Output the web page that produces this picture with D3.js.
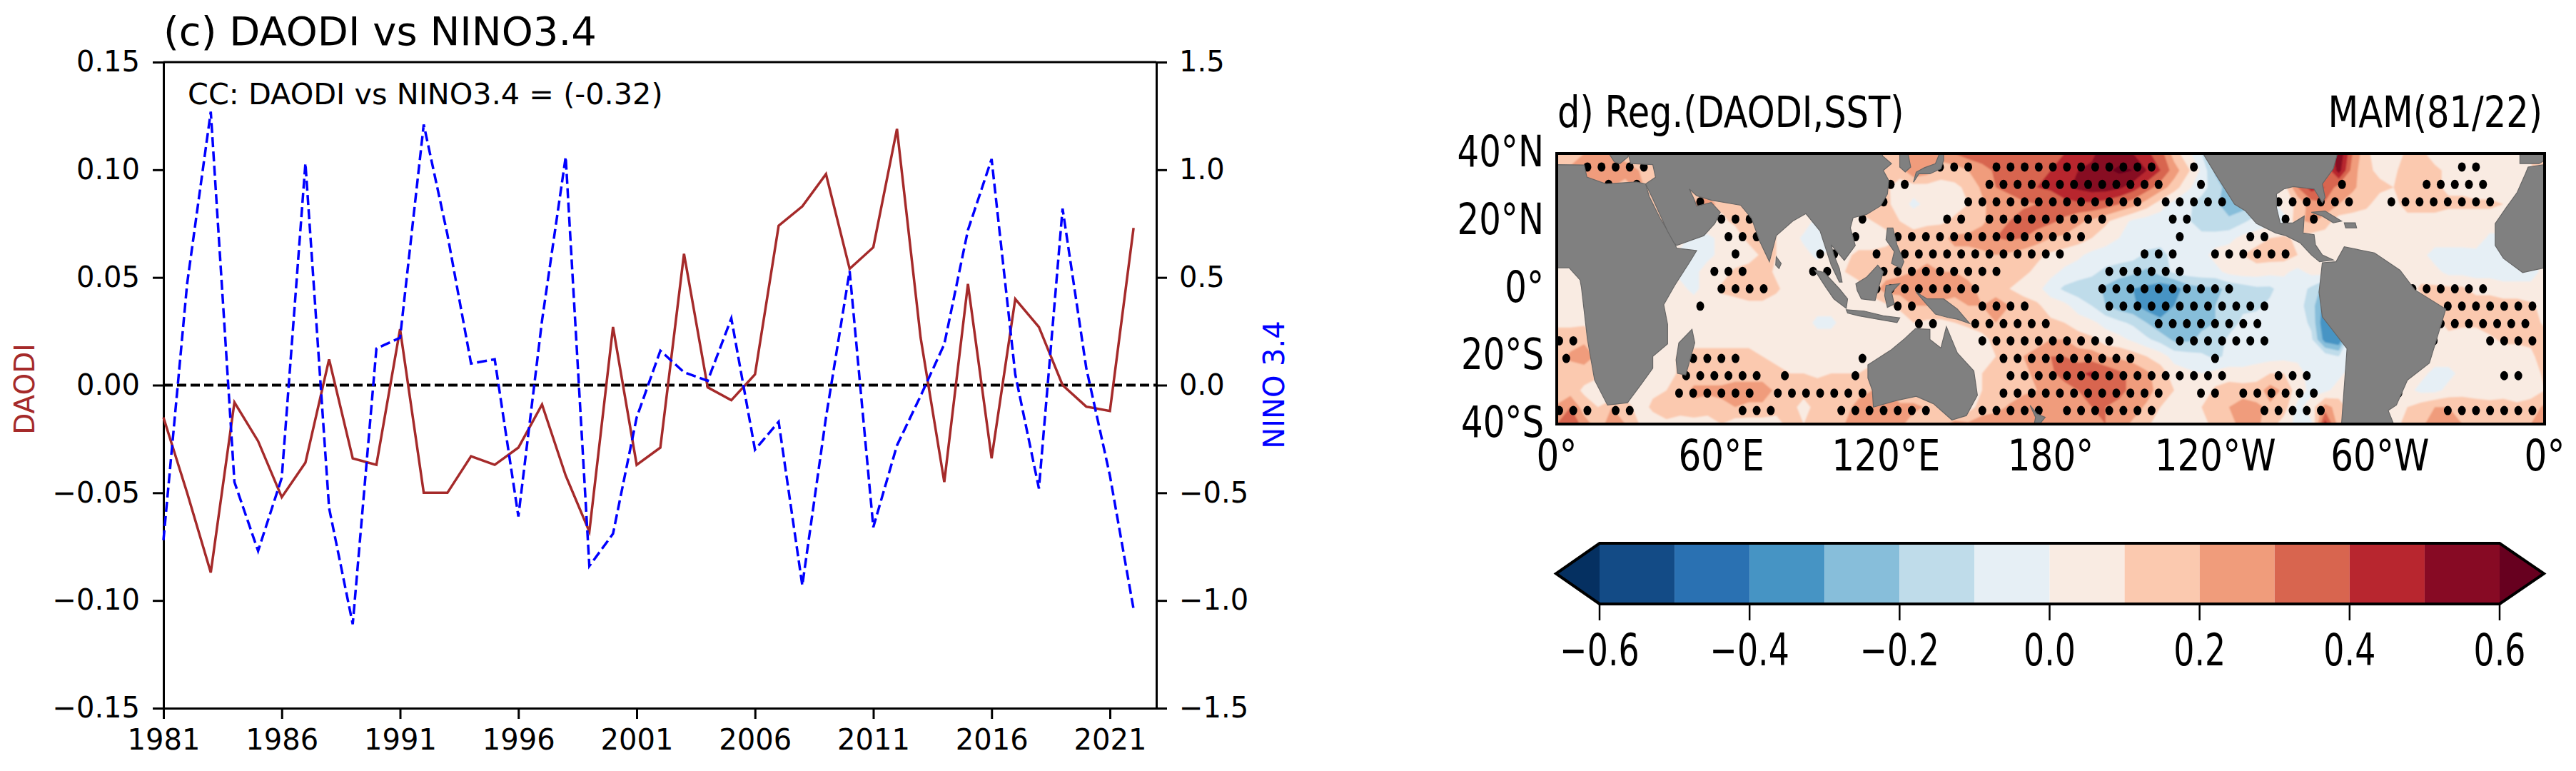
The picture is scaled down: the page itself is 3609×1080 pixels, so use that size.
<!DOCTYPE html>
<html>
<head>
<meta charset="utf-8">
<script src="https://cdn.jsdelivr.net/npm/d3@7"></script>
<style>
  body { margin: 0; background: #fff; }
  svg { display: block; }
  text { font-family: "DejaVu Sans", sans-serif; fill: #000; }
</style>
</head>
<body>
<div id="chart"></div>
<script>
// 1: DATA
// panel (c) time series
const years = d3.range(1981, 2023);
const daodi = [-0.015, -0.05, -0.087, -0.008, -0.026, -0.052, -0.036, 0.012, -0.034, -0.037,
  0.026, -0.05, -0.05, -0.033, -0.037, -0.029, -0.009, -0.042, -0.068, 0.027,
  -0.037, -0.029, 0.061, -0.001, -0.007, 0.005, 0.074, 0.083, 0.098, 0.054,
  0.064, 0.119, 0.022, -0.045, 0.047, -0.034, 0.04, 0.027, 0, -0.01, -0.012, 0.073];
const nino34 = [-0.72, 0.47, 1.27, -0.45, -0.77, -0.43, 1.03, -0.57, -1.11, 0.17,
  0.22, 1.21, 0.7, 0.1, 0.12, -0.61, 0.3, 1.06, -0.84, -0.69,
  -0.15, 0.16, 0.06, 0.02, 0.31, -0.3, -0.17, -0.93, -0.15, 0.53,
  -0.66, -0.28, -0.05, 0.19, 0.72, 1.05, 0.05, -0.48, 0.82, 0.08, -0.42, -1.04];
const yearTicks = [1981, 1986, 1991, 1996, 2001, 2006, 2011, 2016, 2021];
const daodiTicks = [-0.15, -0.1, -0.05, 0, 0.05, 0.1, 0.15];
const ninoTicks = [-1.5, -1, -0.5, 0, 0.5, 1, 1.5];

// panel (d) regression field, hundredths, one row per latitude, columns 0,5,...,355
const sstLats = d3.range(40, -41, -5);
const sstRows = [
  [15,15,20,20,20,15,15,10,10,10,10,10, 10,10,10,10,10,10,10,10,10,10,10,10, 12,18,25,22,25,30,35,38,38,35,32,32, 35,40,45,48,55,55,50,42,35,15,3,-10, -22,-22,-15,-10,-5,5,5,15,30,60,30,12, 5,5,12,12,6,5,5,5,5,5,8,12],
  [22,22,22,25,25,25,20,15,15,10,10,10, 10,10,10,10,10,10,10,10,10,10,10,10, 15,15,30,25,15,15,20,25,32,32,35,35, 40,45,50,52,58,62,60,50,40,25,12,-2, -22,-30,-25,-20,-15,-10,-5,10,30,55,25,12, 8,8,15,15,12,8,8,8,8,8,8,8],
  [15,20,20,20,20,15,25,10,10,10,10,10, 10,10,10,10,10,10,10,10,10,10,10,10, 12,5,5,6,6,8,12,22,30,32,38,40, 42,48,52,55,55,52,45,35,25,15,2,-6, -15,-25,-28,-15,-5,5,30,45,40,25,22,15, 12,10,15,15,12,8,8,5,5,5,8,8],
  [10,10,10,10,10,10,10,18,18,18,22,30, 12,12,12,12,12,12,12,12,12,12,12,12, 12,6,-3,3,5,6,10,18,25,27,28,30, 32,36,38,38,35,30,24,15,5,-4,-8,-14, -18,-25,-25,-18,-5,5,12,25,28,20,15,12, 6,6,15,15,15,12,12,12,12,10,10,10],
  [10,10,10,10,10,10,10,15,15,12,12,10, 8,12,15,15,10,8,5,-3,-3,3,8,10, 12,10,8,8,8,12,15,18,25,30,35,35, 32,28,22,18,12,5,-2,-5,-6,-6,-8,-18, -20,-18,-12,-6,-4,-4,18,22,15,5,5,5, 5,5,5,5,5,5,5,5,5,5,5,5],
  [5,5,5,5,5,5,5,5,5,5,-5,-3, 3,5,13,15,10,5,-2,-3,-3,5,5,5, 8,10,12,15,18,22,22,25,30,32,30,25, 20,18,15,10,5,0,-4,-5,-4,-8,-8,-5, -4,-3,3,5,10,12,8,5,5,5,5,5, 5,5,5,5,5,5,5,5,-2,-2,-2,-2],
  [5,5,5,5,5,5,5,5,5,-3,-3,-3, 3,3,5,12,10,5,3,-2,3,8,12,12, 12,15,18,18,18,18,18,18,20,18,15,12, 8,5,2,-3,-5,-5,-6,-12,-15,-5,-3,-3, 3,5,10,15,15,15,10,3,3,3,3,3, 5,3,3,3,-4,-4,-4,-3,-3,-3,-3,-3],
  [3,3,3,3,3,3,3,3,3,-3,-3,5, 5,12,15,15,8,5,5,5,10,10,12,12, 15,18,20,22,20,20,18,15,15,15,12,8, 3,-2,-5,-8,-12,-15,-18,-22,-15,-8,-5,-4, -3,3,5,5,3,2,-3,3,5,5,5,5, 5,5,5,5,3,-3,-3,-3,-3,-4,-4,-4],
  [8,8,5,5,5,5,5,5,5,3,-3,5, 12,15,15,15,12,5,5,5,5,5,8,15, 25,25,28,28,25,25,22,18,15,10,6,3, -5,-12,-15,-15,-22,-28,-30,-32,-38,-35,-25,-22, -22,-18,-15,-12,-12,-5,-5,-12,-25,5,5,5, 5,5,5,12,12,12,12,5,5,3,3,3],
  [6,6,6,5,5,5,5,3,3,5,5,5, 5,5,8,8,5,5,5,5,5,5,5,5, 8,12,20,20,18,15,20,20,25,20,15,12, 5,3,-5,-10,-20,-25,-28,-35,-35,-30,-25,-22, -20,-15,-12,-12,-8,-4,-6,-15,-35,5,5,5, 5,5,5,5,15,18,15,18,18,15,15,12],
  [8,8,8,8,8,8,5,5,5,5,5,5, 5,5,5,5,5,5,5,-3,-3,5,5,5, 5,5,10,8,8,10,12,18,20,18,18,15, 12,10,5,2,-3,-8,-12,-20,-28,-30,-25,-22, -20,-15,-8,-6,-5,-5,-5,-12,-40,-30,5,5, 5,5,5,5,5,15,12,12,15,15,15,15],
  [15,15,18,10,8,5,5,5,5,5,5,5, 5,5,5,5,5,5,5,5,5,5,3,3, 3,5,5,5,5,5,5,5,15,18,15,18, 20,20,15,12,5,3,-2,-8,-14,-22,-22,-18, -15,-8,-5,-4,-4,-4,-5,-8,-35,-40,5,5, 5,5,5,5,5,5,5,5,8,12,12,12],
  [15,22,25,18,5,5,5,5,5,12,15,15, 15,15,15,10,5,5,5,5,5,5,5,5, 12,5,5,5,5,5,5,5,10,15,20,22, 30,30,25,25,20,18,15,10,5,-4,-6,-8, -12,-8,-5,-4,-4,-3,-3,-4,-4,-10,-4,-4, 3,3,3,5,5,5,5,5,5,5,5,8],
  [12,15,15,12,5,3,3,3,5,12,15,15, 15,18,15,15,15,10,10,8,10,10,10,15, 5,5,5,5,5,5,5,10,12,15,18,22, 28,35,38,42,38,32,28,22,15,5,2,0, 3,5,3,5,10,10,5,-5,-5,-3,5,5, 5,5,5,3,-3,-3,3,3,5,5,5,5],
  [10,15,8,5,-3,5,5,8,10,15,22,22, 22,22,25,25,18,12,12,15,15,15,18,20, 22,5,5,5,5,5,5,10,12,12,18,20, 22,25,30,35,35,32,28,25,15,10,5,3, 12,15,15,15,25,18,5,-3,-3,5,5,5, 5,5,3,-3,-3,3,5,5,3,5,5,5],
  [22,30,15,10,20,15,5,12,15,15,18,15, 18,20,18,18,12,12,8,12,15,18,22,25, 30,25,25,18,15,12,5,15,15,22,25,22, 25,25,22,30,30,28,25,18,10,5,5,10, 15,20,25,22,18,15,-3,5,25,15,5,5, 5,5,10,15,20,20,18,15,15,15,12,15],
  [30,40,25,15,25,20,10,5,8,5,5,5, 10,5,5,5,8,12,10,10,15,20,30,30, 20,25,10,12,18,22,22,25,30,25,20,20, 22,25,30,28,30,25,18,12,5,3,3,8, 12,18,22,22,15,5,-3,-2,45,15,5,5, 5,5,15,18,25,25,20,18,20,20,15,20]
];

// significance dots: latitude of each row and the runs of grid index that are significant
const stippleLats = [36, 30.86, 25.7, 20.6, 15.4, 10.3, 5.14, 0, -5.14, -10.3, -15.4, -20.6, -25.7, -30.86, -36];
const stippleRuns = [
  [[2,6],[27,29],[31,42],[45,45],[64,65]],
  [[3,3],[5,5],[23,24],[30,42],[45,45],[55,55],[61,65]],
  [[10,10],[23,23],[29,41],[43,47],[51,56],[59,66]],
  [[11,13],[21,21],[27,28],[30,38],[43,44],[51,51],[53,53]],
  [[12,14],[21,21],[24,37],[44,44],[49,50]],
  [[12,12],[18,19],[22,22],[24,35],[41,43],[46,51]],
  [[11,13],[18,19],[23,31],[39,44]],
  [[11,14],[22,29],[38,47],[60,65]],
  [[10,10],[24,25],[30,33],[39,50],[63,69]],
  [[25,26],[29,34],[42,49],[62,68]],
  [[0,1],[30,39],[44,50],[62,62],[66,69]],
  [[0,0],[9,12],[21,21],[31,40],[46,46]],
  [[9,14],[16,16],[21,21],[32,47],[51,53],[67,68]],
  [[8,13],[15,21],[31,42],[45,46],[48,53],[59,59]],
  [[0,2],[4,5],[13,15],[20,26],[30,34],[36,42],[50,54],[63,69]]
];

// coarse coastlines, [lon (0-360), lat]
const africaEast = [[0,36.7],[10,36.6],[11,33],[18,31],[29,31.6],[32.4,31],[33.7,27.3],[37.7,20.8],[42.4,14.6],[43.7,12],[51,11.3],[48.3,7.7],[43,1],[39,-4.7],[40.4,-10.5],[40.4,-16.3],[35,-20],[35,-23.5],[31,-28],[25.8,-33.7],[18.5,-34.4],[13.8,-27],[11.2,-15],[9,0.4],[8.5,2.6],[4.5,6.2],[0,6.2]];
const africaWest = [[360,6.2],[352,4.8],[345,9],[342,12.8],[342,19.3],[346,24],[350,28.5],[353,34],[354,36],[360,36.7]];
const iberia = [[351,37],[351,40],[360,40],[360,38],[358,37]];
const greece = [[19,40],[21,37.5],[23,37],[26,39],[26,40]];
const eurasia = [[26,40],[27,37],[35,36.7],[36,33],[32.4,31],[35,26.6],[40.4,17],[42.8,13.5],[43.7,12.8],[53.6,15.7],[57.6,19.3],[59.6,22.6],[56.3,25.5],[51,24.4],[50,26.6],[48.3,29.5],[51,27.5],[56.3,26.2],[67,24.7],[71,20.8],[74,14],[77.5,8],[80,15.7],[86,20],[90.8,22.2],[94,19],[96,17],[98,12],[100,7],[103,2],[104,2],[103,6],[101,10],[100,13],[104.8,8.4],[108.8,12.8],[107,18],[108,21],[113,22],[118,24.5],[120.5,28],[121,32],[119,35],[122,37],[118.7,39.3],[118.7,40]];
const korea = [[125,40],[125,36],[127,34.5],[129,36],[128,40]];
const japan = [[130,31.5],[132,34],[136,34],[140,35.5],[141,38],[141,40],[139.5,40],[138,37],[134,35.8],[131,34.5]];
const sriLanka = [[80,9.5],[81.8,7.5],[81,6],[79.8,7]];
const sumatra = [[94,5.5],[97.5,4.8],[103,0],[106,-3],[105.5,-5.8],[101,-3],[98,0.5]];
const java = [[105.5,-6.2],[112,-6.6],[119,-8],[125,-8.6],[124,-10],[117,-9],[110,-8],[106,-7.2]];
const borneo = [[109,1.5],[113,3.5],[117,7],[119,5],[117.5,1],[116,-3.5],[111,-3],[109.5,-0.5]];
const sulawesi = [[120,1],[125,1.5],[122,-1],[123,-4.5],[120.5,-5.5],[119.5,-2]];
const philippines = [[120.5,18],[122.5,18],[124,13],[126.5,8],[125.5,6],[122,7.5],[123,11],[120,14.5]];
const newGuinea = [[131,-1],[135,-3],[141,-3],[146,-6],[150.5,-10.3],[146,-9],[142.6,-8.5],[138,-7.5],[134.7,-4.5]];
const australia = [[113.4,-22.5],[122,-18],[126.7,-14.8],[130.7,-11.8],[136,-12],[136,-15],[140,-17.5],[142,-11.2],[146,-19],[152,-24.3],[153.3,-31.5],[149.3,-37.5],[144,-38.8],[137.3,-34],[131,-31.8],[124,-33],[115.4,-35],[115,-30],[113.4,-26.4]];
const madagascar = [[49.3,-12],[50.3,-16],[47,-25.5],[44,-25],[43.5,-21],[44.5,-16]];
const newZealand = [[172.5,-34.5],[175,-37],[178,-38],[176,-40],[174,-40],[174.5,-38]];
const northAmerica = [[235.5,40],[240,34],[247,25],[251,23],[255,19.3],[262,16.5],[265.7,15.7],[271,13.5],[275,10],[278,8],[283,8.5],[279,10],[276.5,13],[276,16],[272,16.5],[272.4,21.5],[268.4,19.5],[263.7,19.3],[262.3,24],[262.3,28],[265,29.5],[268.4,30.2],[276,29.5],[279,25.5],[280,27],[279,31],[283,35.5],[284.5,40]];
const southAmerica = [[279,7.7],[284,8],[287,12.4],[298,10.6],[307.3,5.5],[312.7,-0.3],[324,-6],[320.7,-14.8],[318,-22],[310,-27],[306,-34.4],[303,-36],[305,-40],[286,-40],[288,-17.7],[279,-8.3],[277.8,-1]];
const cuba = [[275,22.6],[280,23],[286,20],[283,19.5],[279,21.5]];
const hispaniola = [[287,19.5],[291,19.5],[291.5,18],[287.5,18]];
const landMasses = [africaEast, africaWest, iberia, greece, eurasia, korea, japan, sriLanka, sumatra, java, borneo, sulawesi, philippines, newGuinea, australia, madagascar, newZealand, northAmerica, southAmerica, cuba, hispaniola];

// colour levels of the bar
const levels = [-0.6, -0.5, -0.4, -0.3, -0.2, -0.1, 0, 0.1, 0.2, 0.3, 0.4, 0.5, 0.6];
const levelColors = ["#134b86", "#2a71b2", "#4694c4", "#87beda", "#bfdcea", "#e6eff5", "#f9ebe2", "#fbc9af", "#f09c7b", "#d8654f", "#b8262f", "#870a24"];
const underColor = "#053061", overColor = "#67001f";
const barTicks = [-0.6, -0.4, -0.2, 0, 0.2, 0.4, 0.6];
const lonTicks = [[0, "0°"], [60, "60°E"], [120, "120°E"], [180, "180°"], [240, "120°W"], [300, "60°W"], [360, "0°"]];
const latTicks = [[40, "40°N"], [20, "20°N"], [0, "0°"], [-20, "20°S"], [-40, "40°S"]];

// 2: SVG
const svg = d3.select("#chart").append("svg").attr("width", 3609).attr("height", 1080);
const defs = svg.append("defs");
defs.append("filter").attr("id", "soft").append("feGaussianBlur").attr("stdDeviation", 1.1);

// 3: PANEL (c)
const box = { left: 229, right: 1620, top: 87, bottom: 992 };
const xYear = d3.scaleLinear().domain([1981, 1981 + (box.right - box.left) / 33.15]).range([box.left, box.right]);
const yDaodi = d3.scaleLinear().domain([-0.15, 0.15]).range([box.bottom, box.top]);
const yNino = d3.scaleLinear().domain([-1.5, 1.5]).range([box.bottom, box.top]);

function styleAxis(g) {
  g.selectAll("path").attr("stroke", "#000").attr("stroke-width", 3);
  g.selectAll("line").attr("stroke", "#000").attr("stroke-width", 3);
  g.selectAll("text").attr("font-size", 40).attr("font-family", "DejaVu Sans").attr("fill", "#000");
}
svg.append("g").attr("transform", `translate(0,${box.bottom})`)
  .call(d3.axisBottom(xYear).tickValues(yearTicks).tickFormat(d3.format("d")).tickSizeInner(15).tickSizeOuter(0).tickPadding(15))
  .call(styleAxis);
svg.append("g").attr("transform", `translate(${box.left},0)`)
  .call(d3.axisLeft(yDaodi).tickValues(daodiTicks).tickFormat(d3.format(".2f")).tickSizeInner(15).tickSizeOuter(0).tickPadding(18))
  .call(styleAxis);
svg.append("g").attr("transform", `translate(${box.right},0)`)
  .call(d3.axisRight(yNino).tickValues(ninoTicks).tickFormat(d3.format(".1f")).tickSizeInner(15).tickSizeOuter(0).tickPadding(17))
  .call(styleAxis);
svg.append("line").attr("x1", box.left).attr("x2", box.right).attr("y1", box.top).attr("y2", box.top)
  .attr("stroke", "#000").attr("stroke-width", 3);

svg.append("line").attr("x1", box.left).attr("x2", box.right)
  .attr("y1", yDaodi(0)).attr("y2", yDaodi(0))
  .attr("stroke", "#000").attr("stroke-width", 4).attr("stroke-dasharray", "13,6");

svg.append("path")
  .attr("d", d3.line().x((d, i) => xYear(years[i])).y(d => yDaodi(d))(daodi))
  .attr("fill", "none").attr("stroke", "brown").attr("stroke-width", 3.5);
svg.append("path")
  .attr("d", d3.line().x((d, i) => xYear(years[i])).y(d => yNino(d))(nino34))
  .attr("fill", "none").attr("stroke", "blue").attr("stroke-width", 3.5).attr("stroke-dasharray", "14,6");

svg.append("text").attr("x", 229).attr("y", 63).attr("font-size", 56).text("(c) DAODI vs NINO3.4");
svg.append("text").attr("x", 263).attr("y", 146).attr("font-size", 41.4).text("CC: DAODI vs NINO3.4 = (-0.32)");
svg.append("text").attr("transform", "translate(48,545) rotate(-90)").attr("text-anchor", "middle")
  .attr("font-size", 39).style("fill", "brown").text("DAODI");
svg.append("text").attr("transform", "translate(1799,539) rotate(-90)").attr("text-anchor", "middle")
  .attr("font-size", 40).style("fill", "blue").text("NINO 3.4");

// 4: PANEL (d) MAP
const map = { left: 2181, right: 3565, top: 215, bottom: 594 };
const xLon = d3.scaleLinear().domain([0, 360]).range([map.left, map.right]);
const yLat = d3.scaleLinear().domain([40, -40]).range([map.top, map.bottom]);
defs.append("clipPath").attr("id", "mapClip").append("rect")
  .attr("x", map.left).attr("y", map.top).attr("width", map.right - map.left).attr("height", map.bottom - map.top);

const mapG = svg.append("g").attr("clip-path", "url(#mapClip)");
const fieldG = mapG.append("g").attr("filter", "url(#soft)");

// 4.1 filled contours of the field, the first column repeated at 360 so it wraps
const nCols = sstRows[0].length + 1;
const gridValues = sstRows.flatMap(r => r.concat(r[0]).map(v => v / 100));
const contourBands = d3.contours().size([nCols, sstRows.length])
  .thresholds([-10].concat(levels.slice(0, -1)).concat([0.6]))(gridValues);
const gridPath = d3.geoPath(d3.geoTransform({
  point(x, y) {
    this.stream.point(xLon((x - 0.5) * 5), yLat(sstLats[0] - (y - 0.5) * 5));
  }
}));
// value >= threshold gets the colour of the bin starting there
const bandColors = [underColor].concat(levelColors).concat([overColor]);
fieldG.selectAll("path").data(contourBands).enter().append("path")
  .attr("d", gridPath).attr("fill", (d, i) => bandColors[i]);

// 4.2 significance dots
const stippleLon = d3.scaleLinear().domain([0, 69]).range([0.9, 0.9 + 69 * 5.14]);
const stipple = stippleRuns.flatMap((runs, j) => runs.flatMap(([a, b]) =>
  d3.range(a, b + 1).map(i => ({ lon: stippleLon(i + (j % 2 ? 0.5 : 0)), lat: stippleLats[j] }))));
mapG.selectAll("ellipse").data(stipple).enter().append("ellipse")
  .attr("cx", d => xLon(d.lon)).attr("cy", d => yLat(d.lat))
  .attr("rx", 5.5).attr("ry", 6.5).attr("fill", "#000");

// 4.3 land on top
const landLine = d3.line().x(d => xLon(d[0])).y(d => yLat(d[1])).curve(d3.curveLinearClosed);
mapG.selectAll("path.land").data(landMasses).enter().append("path")
  .attr("class", "land").attr("d", landLine)
  .attr("fill", "#808080").attr("stroke", "#666").attr("stroke-width", 1.2);

svg.append("rect").attr("x", map.left).attr("y", map.top)
  .attr("width", map.right - map.left).attr("height", map.bottom - map.top)
  .attr("fill", "none").attr("stroke", "#000").attr("stroke-width", 4);

// squeezed text, the map panel is stretched in the original
function squeezed(x, y, str, size, sx, anchor) {
  return svg.append("text").attr("transform", `translate(${x},${y}) scale(${sx},1)`)
    .attr("font-size", size).attr("text-anchor", anchor).text(str);
}
latTicks.forEach(([lat, s]) => squeezed(2163, yLat(lat) + 18, s, 61, 0.79, "end"));
lonTicks.forEach(([lon, s]) => squeezed(xLon(lon), 659, s, 61, 0.82, "middle"));
squeezed(2182, 178, "d) Reg.(DAODI,SST)", 60, 0.825, "start");
squeezed(3562, 178, "MAM(81/22)", 60, 0.825, "end");

// 5: COLOUR BAR
const bar = { left: 2241, right: 3502, top: 761, bottom: 846, tipL: 2180, tipR: 3564 };
const xBar = d3.scaleLinear().domain([-0.6, 0.6]).range([bar.left, bar.right]);
const barMid = (bar.top + bar.bottom) / 2;
svg.selectAll("rect.bin").data(levelColors).enter().append("rect")
  .attr("class", "bin")
  .attr("x", (d, i) => xBar(levels[i])).attr("y", bar.top)
  .attr("width", (d, i) => xBar(levels[i + 1]) - xBar(levels[i])).attr("height", bar.bottom - bar.top)
  .attr("fill", d => d);
svg.append("path").attr("d", `M${bar.left},${bar.top}L${bar.tipL},${barMid}L${bar.left},${bar.bottom}Z`).attr("fill", underColor);
svg.append("path").attr("d", `M${bar.right},${bar.top}L${bar.tipR},${barMid}L${bar.right},${bar.bottom}Z`).attr("fill", overColor);
svg.append("path")
  .attr("d", `M${bar.left},${bar.top}L${bar.right},${bar.top}L${bar.tipR},${barMid}L${bar.right},${bar.bottom}L${bar.left},${bar.bottom}L${bar.tipL},${barMid}Z`)
  .attr("fill", "none").attr("stroke", "#000").attr("stroke-width", 4);
svg.append("g").selectAll("line").data(barTicks).enter().append("line")
  .attr("x1", d => xBar(d)).attr("x2", d => xBar(d)).attr("y1", bar.bottom).attr("y2", 869)
  .attr("stroke", "#000").attr("stroke-width", 2.5);
barTicks.forEach(v => squeezed(xBar(v), 932, d3.format(".1f")(v), 62, 0.74, "middle"));
</script>
</body>
</html>
